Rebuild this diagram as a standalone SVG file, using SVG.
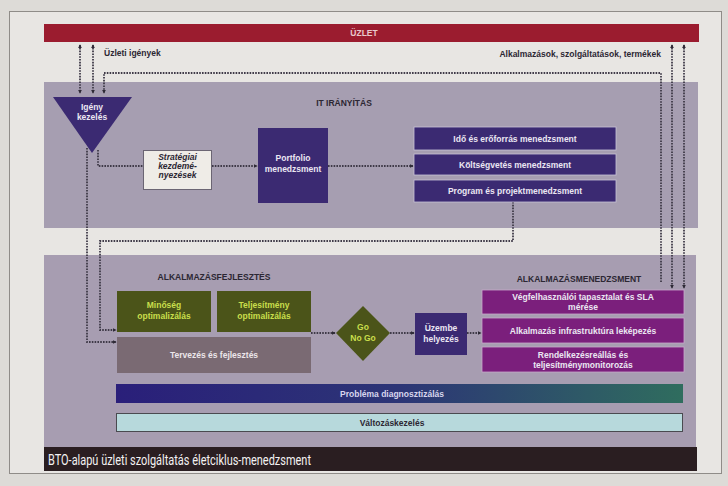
<svg xmlns="http://www.w3.org/2000/svg" width="728" height="486" viewBox="0 0 728 486">
  <style>
    .lbl { font-family: "Liberation Sans", Arial, sans-serif; font-weight: bold; font-size: 8.5px; }
    .wt { fill: #ebe7f2; text-anchor: middle; }
    .dk { fill: #2c2733; }
    .yg { fill: #c9df4c; text-anchor: middle; }
    .indigo { fill: #3b2a72; }
    .magenta { fill: #7b1f7c; stroke: #c9a8cb; stroke-width: 0.8; }
    .olive { fill: #4b5419; }
    .conn { fill: none; stroke: #3f3a48; stroke-width: 1.8; stroke-dasharray: 1.6 1.2; }
  </style>
  <defs>
    <marker id="ah" viewBox="0 0 6 6" refX="5" refY="3" markerWidth="4" markerHeight="4" orient="auto-start-reverse" markerUnits="userSpaceOnUse">
      <path d="M0,0 L6,3 L0,6 Z" fill="#2e2a36"/>
    </marker>
    <linearGradient id="probGrad" x1="0" y1="0" x2="1" y2="0">
      <stop offset="0" stop-color="#2a1f7a"/>
      <stop offset="0.5" stop-color="#2c3576"/>
      <stop offset="1" stop-color="#2f6d5e"/>
    </linearGradient>
  </defs>

  <!-- page and card -->
  <rect x="0" y="0" width="728" height="486" fill="#dddbd7"/>
  <rect x="9.5" y="11.5" width="712" height="462" fill="#e8e6e3" stroke="#8f8c88" stroke-width="1"/>

  <!-- business bar -->
  <g id="uzlet">
    <rect x="44" y="24" width="655" height="18" fill="#9b1c2f"/>
    <text x="364" y="35.5" class="lbl" fill="#e9c9cd" text-anchor="middle" font-size="6.5">ÜZLET</text>
  </g>

  <!-- panels -->
  <g id="it-iranyitas-panel">
    <rect x="44" y="82" width="654" height="146" fill="#a69eb1"/>
    <text x="344" y="106" class="lbl dk" text-anchor="middle" font-size="7.5">IT IRÁNYÍTÁS</text>
  </g>
  <g id="alkalmazas-panel">
    <rect x="44" y="255" width="652" height="192" fill="#a79db1"/>
    <text x="214" y="280" class="lbl dk" text-anchor="middle" font-size="8.5">ALKALMAZÁSFEJLESZTÉS</text>
    <text x="579" y="282" class="lbl dk" text-anchor="middle" font-size="8.5">ALKALMAZÁSMENEDZSMENT</text>
  </g>

  <!-- flow labels -->
  <text x="104" y="56" class="lbl dk" font-size="8.5">Üzleti igények</text>
  <text x="661" y="57" class="lbl dk" text-anchor="end" font-size="8.5">Alkalmazások, szolgáltatások, termékek</text>

  <!-- connectors -->
  <g id="connectors">
    <path class="conn" d="M80,45 V93" marker-start="url(#ah)" marker-end="url(#ah)"/>
    <path class="conn" d="M93,45 V93" marker-start="url(#ah)" marker-end="url(#ah)"/>
    <path class="conn" d="M661,282 V73 H104 V93" marker-end="url(#ah)"/>
    <path class="conn" d="M672,45 V288" marker-start="url(#ah)" marker-end="url(#ah)"/>
    <path class="conn" d="M684,45 V288" marker-start="url(#ah)" marker-end="url(#ah)"/>
    <path class="conn" d="M98,150 V166 H143"/>
    <path class="conn" d="M212,166 H257" marker-end="url(#ah)"/>
    <path class="conn" d="M328,166 H413" marker-end="url(#ah)"/>
    <path class="conn" d="M513,202 V241 H100 V330 H116" marker-end="url(#ah)"/>
    <path class="conn" d="M87,148 V342 H116" marker-end="url(#ah)"/>
    <path class="conn" d="M311,333 H335" marker-end="url(#ah)"/>
    <path class="conn" d="M390,333 H414" marker-end="url(#ah)"/>
    <path class="conn" d="M467,333 H481" marker-end="url(#ah)"/>
  </g>

  <!-- IT governance nodes -->
  <g id="igeny-kezeles">
    <polygon points="53,97 132,97 92,153" class="indigo"/>
    <text x="92" y="110" class="lbl wt" font-size="8">Igény</text>
    <text x="92" y="120" class="lbl wt" font-size="8">kezelés</text>
  </g>
  <g id="strategiai-kezdemenyezesek">
    <rect x="143.5" y="150.5" width="68" height="39" fill="#efece7" stroke="#6b6573" stroke-width="1"/>
    <text x="177.5" y="160" class="lbl dk" text-anchor="middle" font-style="italic" font-size="7.5">Stratégiai</text>
    <text x="177.5" y="169" class="lbl dk" text-anchor="middle" font-style="italic" font-size="7.5">kezdemé-</text>
    <text x="177.5" y="178" class="lbl dk" text-anchor="middle" font-style="italic" font-size="7.5">nyezések</text>
  </g>
  <g id="portfolio-menedzsment">
    <rect x="258" y="128" width="70" height="75" class="indigo"/>
    <text x="293" y="161" class="lbl wt" font-size="8.5">Portfolio</text>
    <text x="293" y="172" class="lbl wt" font-size="8.5">menedzsment</text>
  </g>
  <g id="ido-eroforras">
    <rect x="414" y="127" width="202" height="23" class="indigo" stroke="#c9c2d6" stroke-width="0.8"/>
    <text x="515" y="141.5" class="lbl wt">Idő és erőforrás menedzsment</text>
  </g>
  <g id="koltsegvetes">
    <rect x="414" y="154" width="202" height="21" class="indigo" stroke="#c9c2d6" stroke-width="0.8"/>
    <text x="515" y="167.5" class="lbl wt">Költségvetés menedzsment</text>
  </g>
  <g id="program-projekt">
    <rect x="414" y="180" width="202" height="22" class="indigo" stroke="#c9c2d6" stroke-width="0.8"/>
    <text x="515" y="194" class="lbl wt">Program és projektmenedzsment</text>
  </g>

  <!-- application development nodes -->
  <g id="minoseg">
    <rect x="117" y="291" width="94" height="41" class="olive"/>
    <text x="164" y="308" class="lbl yg">Minőség</text>
    <text x="164" y="319" class="lbl yg">optimalizálás</text>
  </g>
  <g id="teljesitmeny">
    <rect x="217" y="291" width="94" height="41" class="olive"/>
    <text x="264" y="308" class="lbl yg">Teljesítmény</text>
    <text x="264" y="319" class="lbl yg">optimalizálás</text>
  </g>
  <g id="tervezes">
    <rect x="117" y="337" width="194" height="36" fill="#7a6a73"/>
    <text x="214" y="358" class="lbl" fill="#ece6ea" text-anchor="middle">Tervezés és fejlesztés</text>
  </g>
  <g id="go-no-go">
    <polygon points="363,306 390,333 363,361 336,333" class="olive"/>
    <text x="363" y="330" class="lbl yg" font-size="8">Go</text>
    <text x="363" y="341" class="lbl yg" font-size="8">No Go</text>
  </g>
  <g id="uzembe-helyezes">
    <rect x="415" y="313" width="52" height="42" class="indigo"/>
    <text x="441" y="331" class="lbl wt">Üzembe</text>
    <text x="441" y="342" class="lbl wt">helyezés</text>
  </g>

  <!-- application management nodes -->
  <g id="vegfelhasznaloi">
    <rect x="482" y="290" width="202" height="24" class="magenta"/>
    <text x="583" y="300" class="lbl wt">Végfelhasználói tapasztalat és SLA</text>
    <text x="583" y="310" class="lbl wt">mérése</text>
  </g>
  <g id="infrastruktura">
    <rect x="482" y="318" width="202" height="25" class="magenta"/>
    <text x="583" y="333.5" class="lbl wt">Alkalmazás infrastruktúra leképezés</text>
  </g>
  <g id="rendelkezesreallas">
    <rect x="482" y="347" width="202" height="25" class="magenta"/>
    <text x="583" y="357.5" class="lbl wt">Rendelkezésreállás és</text>
    <text x="583" y="367.5" class="lbl wt">teljesítménymonitorozás</text>
  </g>

  <!-- cross-cutting bars -->
  <g id="problema">
    <rect x="116" y="384" width="567" height="19" fill="url(#probGrad)"/>
    <text x="392" y="396.5" class="lbl" fill="#d8d6ee" text-anchor="middle">Probléma diagnosztizálás</text>
  </g>
  <g id="valtozaskezeles">
    <rect x="116.5" y="413.5" width="566" height="18" fill="#b7d9dc" stroke="#4a4a50" stroke-width="1"/>
    <text x="392" y="425.5" class="lbl dk" text-anchor="middle">Változáskezelés</text>
  </g>

  <!-- caption -->
  <g id="caption">
    <rect x="44" y="447" width="653" height="24" fill="#2a1e21"/>
    <text x="48" y="465" font-family="Roboto, 'Liberation Sans', sans-serif" font-size="14.5" fill="#f4f2f2" textLength="263" lengthAdjust="spacingAndGlyphs">BTO-alapú üzleti szolgáltatás életciklus-menedzsment</text>
  </g>
</svg>
